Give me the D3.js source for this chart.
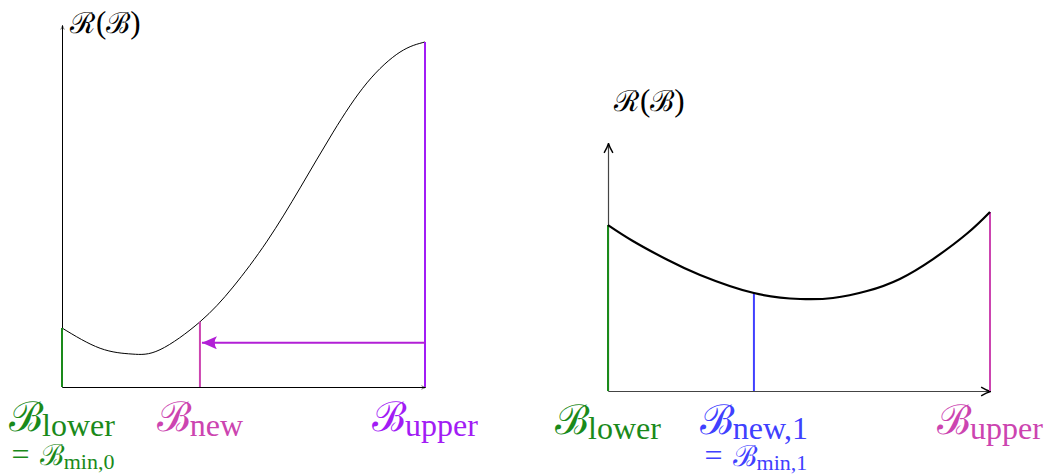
<!DOCTYPE html>
<html>
<head>
<meta charset="utf-8">
<script src="https://cdn.jsdelivr.net/npm/d3@7"></script>
</head>
<body style="margin:0">
<svg id="chart" width="1046" height="474"></svg>
<script>
// Left panel: risk curve R(B) over the bracket [B_lower, B_upper]
const leftX = [0, 0.105, 0.193, 0.27, 0.38, 0.471, 0.565, 0.656, 0.747, 0.84, 0.931, 1];
const leftY = [0.163, 0.107, 0.091, 0.103, 0.180, 0.276, 0.403, 0.550, 0.704, 0.840, 0.925, 0.953];
const leftMarks = [
  { name: "lower", x: 0, y: 0.163, color: "#1a8a1a", sub: "lower", note: "min,0" },
  { name: "new", x: 0.38, y: 0.180, color: "#cc44b0", sub: "new", note: null },
  { name: "upper", x: 1, y: 0.953, color: "#a21cf5", sub: "upper", note: null }
];
const leftArrow = { from: 1, to: 0.38, y: 0.122, color: "#b21fd6" };

// Right panel: narrowed bracket with an interior minimum
const rightX = [0, 0.065, 0.154, 0.241, 0.382, 0.503, 0.589, 0.678, 0.764, 0.851, 0.94, 1];
const rightY = [0.669, 0.605, 0.530, 0.468, 0.395, 0.371, 0.375, 0.403, 0.452, 0.532, 0.635, 0.722];
const rightMarks = [
  { name: "lower", x: 0, y: 0.669, color: "#1a8a1a", sub: "lower", note: null },
  { name: "new", x: 0.382, y: 0.395, color: "#4040ff", sub: "new,1", note: "min,1" },
  { name: "upper", x: 1, y: 0.722, color: "#cc44b0", sub: "upper", note: null }
];

// roman text (subscripts, parentheses, "=") and script capitals use separate families
const FONT_RM = "'Times New Roman'";
const FONT_CAL = "'Liberation Serif'";

const svg = d3.select("#chart");
const defs = svg.append("defs");

// small axis arrow tip
defs.append("marker").attr("id", "tipSmall")
  .attr("viewBox", "0 0 10 10").attr("refX", 9).attr("refY", 5)
  .attr("markerWidth", 5).attr("markerHeight", 5).attr("orient", "auto")
  .attr("markerUnits", "userSpaceOnUse")
  .append("path").attr("d", "M1,1.5 Q5,4 9,5 Q5,6 1,8.5").attr("fill", "none")
  .attr("stroke", "#000").attr("stroke-width", 1.2);

// stealth-like axis arrow
defs.append("marker").attr("id", "tipAxis")
  .attr("viewBox", "0 0 10 10").attr("refX", 9.5).attr("refY", 5)
  .attr("markerWidth", 11).attr("markerHeight", 11).attr("orient", "auto")
  .attr("markerUnits", "userSpaceOnUse")
  .append("path").attr("d", "M1,1 Q6,4 9.5,5 Q6,6 1,9").attr("fill", "none")
  .attr("stroke", "#000").attr("stroke-width", 1.3);

// filled triangle head for the update arrow
defs.append("marker").attr("id", "tipMove")
  .attr("viewBox", "0 0 10 10").attr("refX", 10).attr("refY", 5)
  .attr("markerWidth", 15).attr("markerHeight", 13).attr("orient", "auto")
  .attr("markerUnits", "userSpaceOnUse").attr("preserveAspectRatio", "none")
  .append("path").attr("d", "M0,0 L10,5 L0,10 Q3,5 0,0 Z").attr("fill", leftArrow.color);

// ---------- left panel ----------
const xL = d3.scaleLinear().domain([0, 1]).range([62, 425]);
const yL = d3.scaleLinear().domain([0, 1]).range([387, 25]);

const axL = svg.append("g").attr("transform", `translate(${xL(0)},0)`)
  .call(d3.axisLeft(yL).tickValues([]).tickSizeOuter(0));
axL.select(".domain").attr("stroke", "#000").attr("stroke-width", 1).attr("marker-end", "url(#tipSmall)");
const axLb = svg.append("g").attr("transform", `translate(0,${yL(0)})`)
  .call(d3.axisBottom(xL).tickValues([]).tickSizeOuter(0));
axLb.select(".domain").attr("stroke", "#000").attr("stroke-width", 1.2).attr("marker-end", "url(#tipSmall)");

svg.append("path")
  .datum(leftX.map((x, i) => [x, leftY[i]]))
  .attr("fill", "none").attr("stroke", "#000").attr("stroke-width", 1)
  .attr("d", d3.line().x(d => xL(d[0])).y(d => yL(d[1])).curve(d3.curveNatural));

svg.selectAll("line.markL").data(leftMarks).join("line").attr("class", "markL")
  .attr("x1", d => xL(d.x)).attr("x2", d => xL(d.x))
  .attr("y1", yL(0)).attr("y2", d => yL(d.y))
  .attr("stroke", d => d.color).attr("stroke-width", 2);

svg.append("line")
  .attr("x1", xL(leftArrow.from)).attr("x2", xL(leftArrow.to) + 2)
  .attr("y1", yL(leftArrow.y)).attr("y2", yL(leftArrow.y))
  .attr("stroke", leftArrow.color).attr("stroke-width", 2)
  .attr("marker-end", "url(#tipMove)");

// ---------- right panel ----------
const xR = d3.scaleLinear().domain([0, 1]).range([608, 990]);
const yR = d3.scaleLinear().domain([0, 1]).range([391, 143]);

const axR = svg.append("g").attr("transform", `translate(${xR(0)},0)`)
  .call(d3.axisLeft(yR).tickValues([]).tickSizeOuter(0));
axR.select(".domain").attr("stroke", "#444").attr("stroke-width", 1.2).attr("marker-end", "url(#tipAxis)");
const axRb = svg.append("g").attr("transform", `translate(0,${yR(0)})`)
  .call(d3.axisBottom(xR).tickValues([]).tickSizeOuter(0));
axRb.select(".domain").attr("stroke", "#444").attr("stroke-width", 1.2).attr("marker-end", "url(#tipAxis)");

svg.selectAll("line.markR").data(rightMarks).join("line").attr("class", "markR")
  .attr("x1", d => xR(d.x)).attr("x2", d => xR(d.x))
  .attr("y1", yR(0)).attr("y2", d => yR(d.y))
  .attr("stroke", d => d.color).attr("stroke-width", 2);

svg.append("path")
  .datum(rightX.map((x, i) => [x, rightY[i]]))
  .attr("fill", "none").attr("stroke", "#000").attr("stroke-width", 2.2)
  .attr("d", d3.line().x(d => xR(d[0])).y(d => yR(d[1])).curve(d3.curveNatural));

// ---------- labels ----------
// roman pieces live in a layer placed before the script capitals
const layerRm = svg.append("g").attr("class", "roman");
const layerCal = svg.append("g").attr("class", "script");

const runs = [];
function textRun(x, y, parts, color, anchor) {
  const nodes = parts.map(p => (p.cal ? layerCal : layerRm).append("text")
    .attr("y", y + (p.dy || 0))
    .style("font-family", p.cal ? FONT_CAL : FONT_RM)
    .style("font-size", p.size + "px")
    .style("fill", color)
    .text(p.t));
  runs.push({ x, parts, nodes, anchor });
}

function calLabel(x, y, sub, color) {
  textRun(x, y, [
    { t: "\u212C", size: 41, cal: true },
    { t: sub, size: 32, dy: 5, gap: -1 }
  ], color, "middle");
}

function noteLabel(x, y, sub, color) {
  textRun(x, y, [
    { t: "=", size: 32 },
    { t: "\u212C", size: 29, gap: 10, cal: true },
    { t: sub, size: 22, dy: 4 }
  ], color, "middle");
}

function riskTitle(x, y) {
  textRun(x, y, [
    { t: "\u211B", size: 29, cal: true },
    { t: "(", size: 31, gap: 1 },
    { t: "\u212C", size: 29, cal: true },
    { t: ")", size: 31 }
  ], "#000", "start");
}

leftMarks.forEach(m => {
  calLabel(xL(m.x), 431, m.sub, m.color);
  if (m.note) noteLabel(xL(m.x) + 1, 465, m.note, m.color);
});
rightMarks.forEach(m => {
  calLabel(xR(m.x), 434, m.sub, m.color);
  if (m.note) noteLabel(xR(m.x) + 2, 466, m.note, m.color);
});
riskTitle(70, 33);
riskTitle(614, 111);

// place every piece side by side once all text exists
runs.forEach(r => {
  const widths = r.nodes.map(n => n.node().getComputedTextLength());
  const gaps = r.parts.map(p => p.gap || 0);
  const total = d3.sum(widths) + d3.sum(gaps);
  let cx = r.anchor === "middle" ? r.x - total / 2 : r.x;
  r.nodes.forEach((n, i) => {
    cx += gaps[i];
    n.attr("x", cx);
    cx += widths[i];
  });
});
</script>
</body>
</html>
